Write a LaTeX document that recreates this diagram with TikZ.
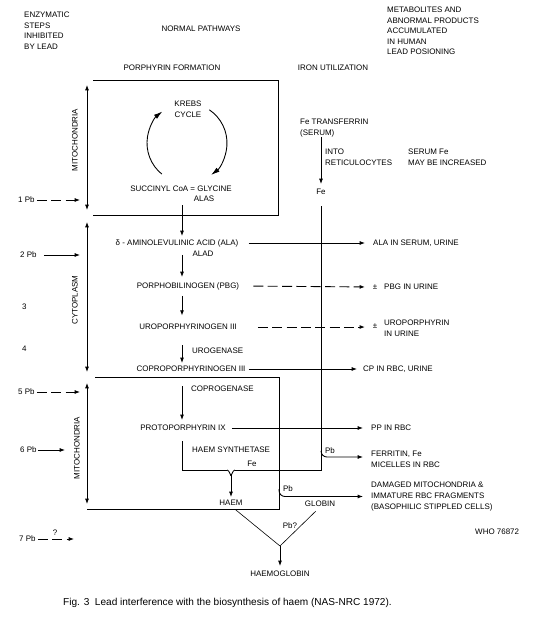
\documentclass[tikz,border=0pt]{standalone}
\usepackage{fontspec}
\setmainfont{Liberation Sans}
\usetikzlibrary{arrows.meta,calc,positioning}
\tikzset{
  wire/.style={black, line width=0.75pt},
  thinwire/.style={black, line width=0.5pt},
  flow/.style={wire, -{Latex[length=1.6mm,width=1.2mm]}},
  cycleflow/.style={wire, -{Latex[length=2.6mm,width=1.5mm]}},
  dashflow/.style={flow, dash pattern=on 3mm off 1.3mm},
  bracket/.style={wire, {Latex[length=1.6mm,width=1.2mm]}-{Latex[length=1.6mm,width=1.2mm]}},
  lab/.style={inner sep=0pt, font=\fontsize{6.8}{9}\selectfont},
  leftlab/.style={lab, anchor=west, align=left},
  sidelab/.style={lab, rotate=90},
  caption/.style={inner sep=0pt, anchor=west, font=\fontsize{8.6}{10}\selectfont},
}

\begin{document}
\begin{tikzpicture}[x=0.3mm,y=-0.3mm]
  \path[use as bounding box] (0,0) rectangle (550,642);

  \node[leftlab] (enzymatic) at (24,30.5) {ENZYMATIC\\STEPS\\INHIBITED\\BY LEAD};
  \node[lab] (normal) at (201,29) {NORMAL PATHWAYS};
  \node[leftlab] (metabolites) at (387,31)
    {METABOLITES AND\\ABNORMAL PRODUCTS\\ACCUMULATED\\IN HUMAN\\LEAD POSIONING};
  \node[lab] (porphyrin) at (172,68) {PORPHYRIN FORMATION};
  \node[lab] (iron) at (333,68) {IRON UTILIZATION};

  % compartments
  \draw[wire] (93,80) -- (278,80) -- (278,215) -- (93,215);
  \draw[wire] (95,377) -- (279,377) -- (279,509) -- (87,509);
  \draw[bracket] (87,85) -- (87,210);
  \draw[bracket] (87,222) -- (87,372);
  \draw[bracket] (87,383) -- (87,504);
  \node[sidelab] (mito1) at (75,140) {MITOCHONDRIA};
  \node[sidelab] (cyto) at (75,300) {CYTOPLASM};
  \node[sidelab] (mito2) at (77,448) {MITOCHONDRIA};

  \coordinate (bar) at (87,0);
  \coordinate (spine) at (182,0);
  \coordinate (feline) at (321,0);
  \coordinate (boxedge) at (279,0);

  \node[lab, align=center] (krebs) at (188,109.5) {KREBS\\CYCLE};
  \draw[cycleflow] (187,143) ++(129:40) arc[start angle=129, end angle=232, radius=40];
  \draw[cycleflow] (187,143) ++(-56:40) arc[start angle=-56, end angle=53, radius=40];

  % porphyrin pathway
  \node[lab] (succinyl) at (181,189) {SUCCINYL CoA = GLYCINE};
  \node[lab] (alas) at (204,199) {ALAS};
  \node[lab] (ala) at (177,243) {δ - AMINOLEVULINIC ACID (ALA)};
  \node[lab] (alad) at (203,254) {ALAD};
  \node[lab] (pbg) at (188,286) {PORPHOBILINOGEN (PBG)};
  \node[lab] (uro) at (188,327) {UROPORPHYRINOGEN III};
  \node[leftlab] (urogenase) at (192,351) {UROGENASE};
  \node[lab] (copro) at (191,369) {COPROPORPHYRINOGEN III};
  \node[leftlab] (coprogenase) at (191,389) {COPROGENASE};
  \node[lab] (proto) at (183,428) {PROTOPORPHYRIN IX};
  \node[leftlab] (synthetase) at (192,450) {HAEM SYNTHETASE};
  \node[lab] (fesyn) at (252,464) {Fe};
  \node[lab] (haem) at (231,503) {HAEM};
  \node[lab] (globin) at (320,504) {GLOBIN};
  \node[lab] (pbfe) at (330,451) {Pb};
  \node[lab] (pbbox) at (288,489) {Pb};
  \node[lab] (pbq) at (290,526) {Pb?};
  \node[lab] (haemoglobin) at (280,574) {HAEMOGLOBIN};
  \coordinate (fork) at (231,470);
  \coordinate (forkbase) at (231,475);
  \coordinate (join) at (280,546);

  \draw[flow, shorten <=0.9mm, shorten >=0.9mm] (alas.south -| spine) -- (ala.north -| spine);
  \draw[flow, shorten <=2.4mm, shorten >=1.5mm] (ala.south -| spine) -- (pbg.north -| spine);
  \draw[flow, shorten <=1.8mm, shorten >=2.5mm] (pbg.south -| spine) -- (uro.north -| spine);
  \draw[flow, shorten <=4.5mm, shorten >=0.9mm] (uro.south -| spine) -- (copro.north -| spine);
  \draw[flow, shorten <=4.2mm, shorten >=1.5mm] (copro.south -| spine) -- (proto.north -| spine);
  \draw[wire, shorten <=3mm] (proto.south -| spine) |- ([xshift=-1.2mm]fork);
  \draw[wire] ([xshift=-1.2mm]fork) to[out=0,in=270] (forkbase);
  \draw[wire] ([xshift=1.2mm]fork) to[out=180,in=270] (forkbase);
  \draw[flow, shorten >=0.9mm] (forkbase) -- (forkbase |- haem.north);

  % iron utilization
  \node[leftlab] (transferrin) at (300,128) {Fe TRANSFERRIN\\(SERUM)};
  \node[leftlab] (into) at (325,157.5) {INTO\\RETICULOCYTES};
  \node[leftlab] (serumfe) at (408,157.5) {SERUM Fe\\MAY BE INCREASED};
  \node[lab] (fe) at (321,192) {Fe};
  \draw[flow, shorten >=1.5mm] (transferrin.south -| feline) -- (fe.north);
  \draw[wire, shorten <=3.3mm] (fe.south) -- (feline |- fork) -- ([xshift=1.2mm]fork);

  % products
  \node[leftlab] (alaout) at (373,243) {ALA IN SERUM, URINE};
  \node[lab] (pm1) at (375,287) {±};
  \node[leftlab] (pbgout) at (384,287) {PBG IN URINE};
  \node[lab] (pm2) at (375,326) {±};
  \node[leftlab] (uroout) at (384,328) {UROPORPHYRIN\\IN URINE};
  \node[leftlab] (cpout) at (363,369) {CP IN RBC, URINE};
  \node[leftlab] (ppout) at (371,428) {PP IN RBC};
  \node[leftlab] (ferout) at (371,459.5) {FERRITIN, Fe\\MICELLES IN RBC};
  \node[leftlab] (damaged) at (371,496.5)
    {DAMAGED MITOCHONDRIA \&\\IMMATURE RBC FRAGMENTS\\(BASOPHILIC STIPPLED CELLS)};
  \node[leftlab] (who) at (475,532) {WHO 76872};

  \draw[flow, shorten <=3mm, shorten >=2.4mm] (ala.east) -- (alaout.west);
  \draw[dashflow, shorten <=4.2mm, shorten >=2.3mm] (pbg.east) -- (pm1.west);
  \draw[dashflow, shorten <=6.3mm, shorten >=2.3mm] (uro.east) -- (uro.east -| pm2.west);
  \draw[flow, shorten <=0.9mm, shorten >=1.8mm] (copro.east) -- (cpout.west);
  \draw[flow, shorten <=1.8mm, shorten >=2.4mm] (proto.east) -- (ppout.west);
  \draw[flow, rounded corners=1.8mm, shorten >=2.4mm] (feline |- pbfe) |- ([yshift=0.75mm]ferout.west);
  \draw[flow, rounded corners=1.8mm, shorten >=2.4mm] (boxedge |- pbbox) |- (damaged.west);

  \draw[thinwire, shorten <=1.8mm] (haem.south) -- (join);
  \draw[thinwire, shorten <=1.8mm] (globin.south) -- (join);
  \draw[flow, shorten >=1.5mm] (join) -- (haemoglobin.north);

  % lead
  \node[leftlab] (pb1) at (18,200) {1 Pb};
  \node[leftlab] (pb2) at (20,255) {2 Pb};
  \node[leftlab] (step3) at (22,307) {3};
  \node[leftlab] (step4) at (22,349) {4};
  \node[leftlab] (pb5) at (18,392) {5 Pb};
  \node[leftlab] (pb6) at (20,450) {6 Pb};
  \node[leftlab] (pb7) at (19,539) {7 Pb};
  \node[lab] (unsure) at (55,533) {?};
  \coordinate (pb7tip) at (74,539);
  \draw[dashflow, shorten <=0.6mm, shorten >=2.1mm] (pb1.east) -- (pb1.east -| bar);
  \draw[flow, shorten <=2.1mm, shorten >=2.1mm] (pb2.east) -- (pb2.east -| bar);
  \draw[dashflow, shorten <=0.6mm, shorten >=2.1mm] (pb5.east) -- (pb5.east -| bar);
  \draw[flow, shorten <=0.3mm, shorten >=6.6mm] (pb6.east) -- (pb6.east -| bar);
  \draw[dashflow, shorten <=0.6mm] (pb7.east) -- (pb7tip);

  \node[caption] (caption) at (63,603)
    {Fig. 3\ \ Lead interference with the biosynthesis of haem (NAS-NRC 1972).};
\end{tikzpicture}
\end{document}
